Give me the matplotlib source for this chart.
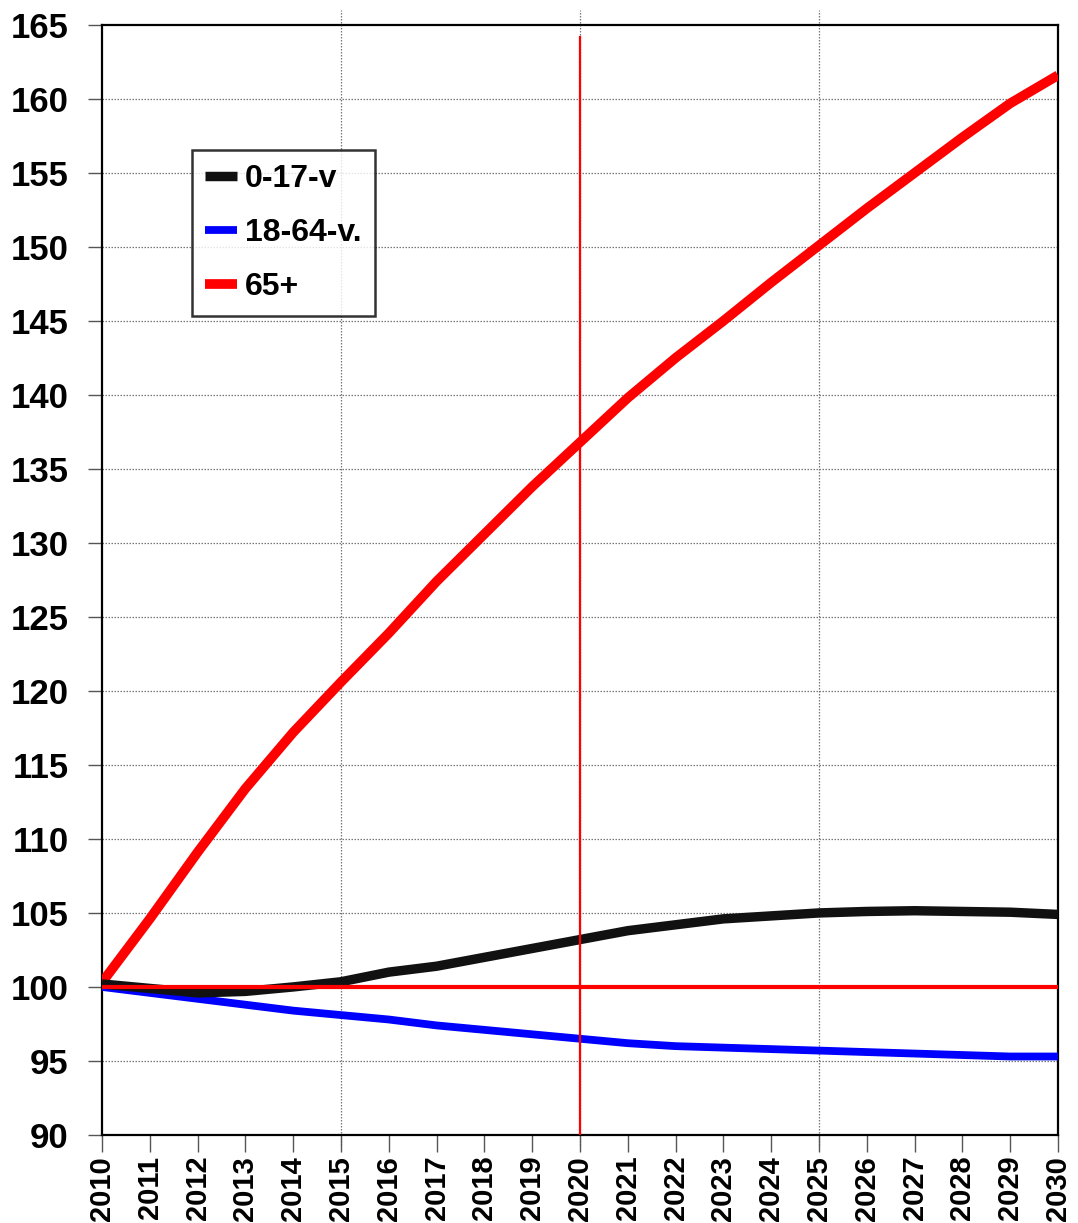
import matplotlib
matplotlib.use("Agg")
import matplotlib.pyplot as plt
from matplotlib import font_manager

years = list(range(2010, 2031))
age_0_17 = [100.2, 99.9, 99.6, 99.7, 100.0, 100.35, 101.0, 101.4, 102.0, 102.6, 103.2,
            103.8, 104.2, 104.6, 104.8, 105.0, 105.1, 105.15, 105.1, 105.05, 104.9]
age_18_64 = [100.0, 99.6, 99.2, 98.8, 98.4, 98.1, 97.8, 97.4, 97.1, 96.8, 96.5,
             96.2, 96.0, 95.9, 95.8, 95.7, 95.6, 95.5, 95.4, 95.3, 95.3]
age_65 = [100.3, 104.6, 109.1, 113.4, 117.2, 120.6, 123.9, 127.4, 130.6, 133.8, 136.8,
          139.8, 142.5, 145.0, 147.6, 150.1, 152.6, 155.0, 157.4, 159.7, 161.6]
labels = ["0-17-v", "18-64-v.", "65+"]
yticks = list(range(90, 170, 5))

avail = {f.name for f in font_manager.fontManager.ttflist}
fam = [f for f in ["Liberation Sans Narrow", "Liberation Sans", "DejaVu Sans"] if f in avail]
plt.rcParams['font.family'] = fam
plt.rcParams['font.weight'] = 'bold'

fig = plt.figure(figsize=(10.78, 12.23), dpi=100)
ax = fig.add_axes([0.0946, 0.072, 0.8868, 0.9076])

ax.plot(years, age_0_17, color="#111111", lw=6.8, label=labels[0], zorder=4, solid_capstyle='butt')
ax.plot(years, age_18_64, color="#0000ff", lw=5.6, label=labels[1], zorder=3, solid_capstyle='butt')
ax.plot(years, age_65, color="#ff0000", lw=7.0, label=labels[2], zorder=3, solid_capstyle='butt')

ax.axhline(100, color="#ff0000", lw=3, zorder=5)
ax.plot([2020, 2020], [90, 164.2], color="#ff0000", lw=1.6, zorder=6)

ax.set_xlim(2010, 2030)
ax.set_ylim(90, 165)
ax.set_yticks(yticks)
ax.set_xticks(years)

for y in yticks[1:-1]:
    ax.axhline(y, color="#777777", lw=0.9, ls=(0, (1.2, 1.2)), zorder=1)
for x in [2015, 2020, 2025]:
    ax.axvline(x, ymin=-0.009, ymax=1.0135, color="#777777", lw=0.9, ls=(0, (1.2, 1.2)),
               zorder=1, clip_on=False)

ax.tick_params(axis='y', direction='out', length=10, width=1, color="#555555",
               labelsize=25, pad=14)
ax.tick_params(axis='x', direction='out', length=12, width=1, color="#555555",
               labelsize=21, pad=3, labelrotation=90)
for lab in ax.get_xticklabels() + ax.get_yticklabels():
    lab.set_fontweight('bold')

for s in ax.spines.values():
    s.set_linewidth(1.6)
    s.set_color("black")

leg = ax.legend(loc='upper left', bbox_to_anchor=(0.094, 0.887), borderaxespad=0,
                frameon=True, fancybox=False,
                edgecolor='black', handlelength=1.0, handletextpad=0.25, labelspacing=0.76,
                borderpad=0.42, prop={'size': 23, 'weight': 'bold'})
leg.get_frame().set_linewidth(1.8)
leg.set_zorder(10)

fig.savefig("out.png", dpi=100, facecolor="white")
